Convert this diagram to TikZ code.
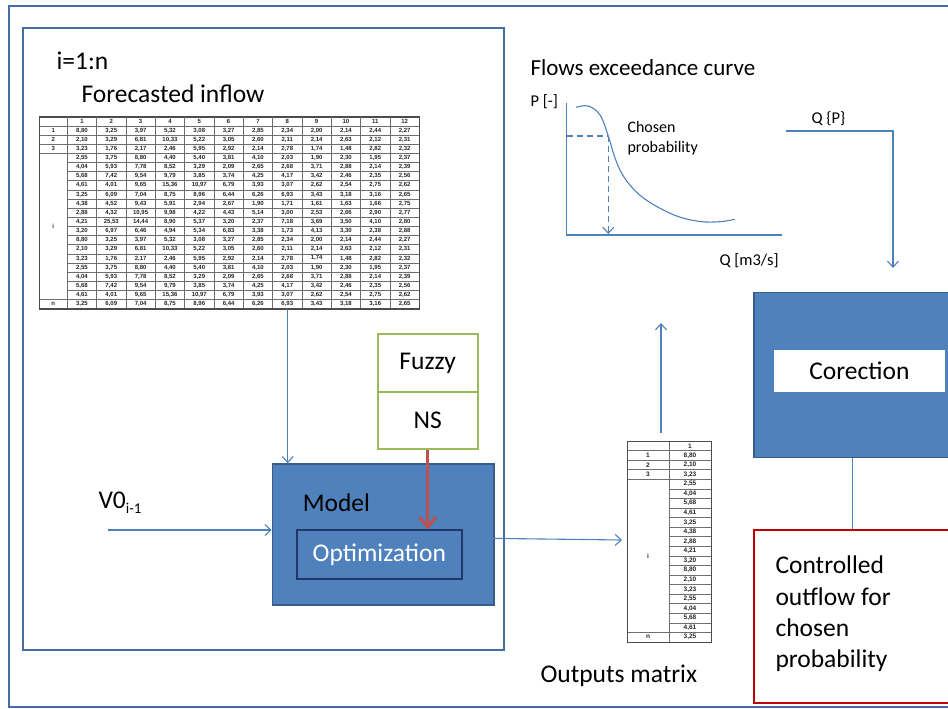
\documentclass[tikz,border=0pt]{standalone}
\usepackage{fontspec}
\setmainfont{Carlito}
\newfontfamily\cellfont{Liberation Sans}
\usetikzlibrary{arrows.meta}

\definecolor{frameblue}{RGB}{68,108,165}
\definecolor{boxblue}{RGB}{79,129,189}
\definecolor{boxedge}{RGB}{56,93,138}
\definecolor{optedge}{RGB}{31,56,100}
\definecolor{linkblue}{RGB}{79,129,189}
\definecolor{fzgreen}{RGB}{155,187,89}
\definecolor{nsred}{RGB}{192,80,77}
\definecolor{outred}{RGB}{192,0,0}
\definecolor{gridgray}{RGB}{110,110,110}

% rows of the forecasted inflow table
\def\valsA{{8,80},{3,25},{3,97},{5,32},{3,08},{3,27},{2,85},{2,34},{2,00},{2,14},{2,44},{2,27}}
\def\valsB{{2,10},{3,29},{6,81},{10,33},{5,22},{3,05},{2,60},{2,11},{2,14},{2,63},{2,12},{2,31}}
\def\valsC{{3,23},{1,76},{2,17},{2,46},{5,95},{2,92},{2,14},{2,78},{1,74},{1,48},{2,82},{2,32}}
\def\valsD{{2,55},{3,75},{8,80},{4,40},{5,40},{3,81},{4,10},{2,03},{1,90},{2,30},{1,95},{2,37}}
\def\valsE{{4,04},{5,93},{7,78},{8,52},{3,29},{2,09},{2,65},{2,68},{3,71},{2,88},{2,14},{2,39}}
\def\valsF{{5,68},{7,42},{9,54},{9,79},{3,85},{3,74},{4,25},{4,17},{3,42},{2,46},{2,35},{2,56}}
\def\valsG{{4,61},{4,01},{9,65},{15,36},{10,97},{6,79},{3,93},{3,07},{2,62},{2,54},{2,75},{2,62}}
\def\valsH{{3,25},{6,09},{7,04},{8,75},{8,96},{6,44},{6,26},{6,93},{3,43},{3,18},{3,16},{2,65}}
\def\valsI{{4,38},{4,52},{9,43},{5,91},{2,94},{2,67},{1,90},{1,71},{1,61},{1,63},{1,66},{2,75}}
\def\valsJ{{2,88},{4,32},{10,95},{9,98},{4,22},{4,43},{5,14},{3,00},{2,53},{2,66},{2,90},{2,77}}
\def\valsK{{4,21},{25,53},{14,44},{8,90},{5,37},{3,20},{2,37},{7,18},{3,69},{3,50},{4,10},{2,80}}
\def\valsL{{3,20},{6,97},{6,46},{4,94},{5,34},{6,83},{3,38},{1,73},{4,13},{3,30},{2,38},{2,88}}
% single column of the outputs matrix
\def\outvals{{8,80},{2,10},{3,23},{2,55},{4,04},{5,68},{4,61},{3,25},{4,38},{2,88},{4,21},{3,20},{8,80},{2,10},{3,23},{2,55},{4,04},{5,68},{4,61},{3,25}}

\tikzset{
  big/.style={font=\fontsize{25.5}{31.3}\selectfont},
  mid/.style={font=\fontsize{16.5}{20}\selectfont},
  title/.style={font=\fontsize{23}{27}\selectfont},
  frame/.style={draw=frameblue, line width=2.2pt},
  cell/.style={font=\cellfont\bfseries\fontsize{6}{7}\selectfont, inner sep=0pt, text=black!85},
  ocell/.style={font=\cellfont\bfseries\fontsize{6.5}{7}\selectfont, inner sep=0pt, text=black!85},
  gridline/.style={draw=gridgray, line width=0.45pt},
  tableedge/.style={draw=black!70, line width=0.8pt, inner sep=0pt, anchor=north west},
  link/.style={draw=linkblue, line width=1.1pt},
  barb/.style={-{Straight Barb[length=6pt,width=11pt]}},
  bluebox/.style={fill=boxblue, draw=boxedge, line width=1.5pt, inner sep=0pt, anchor=north west},
  fzbox/.style={fill=white, draw=fzgreen, line width=2pt, inner sep=0pt, anchor=north west, big},
}

\begin{document}
\begin{tikzpicture}[x=1pt,y=-1pt]
\useasboundingbox (0,0) rectangle (948,709);

% frames
\draw[frame] (9.3,5.7) rectangle (970,707);
\draw[frame] (22.7,28.3) rectangle (504.3,650);

\node[big, anchor=west] (loop) at (53,61) {i=1:n};
\node[big, anchor=west] (inflowlbl) at (78,94) {Forecasted inflow};

% forecasted inflow table
\def\tx{39.3}\def\tl{67.3}\def\tr{419.3}\def\ty{116.7}\def\cw{29.333}\def\rh{9.14}
\node[tableedge, minimum width=380pt, minimum height=191.94pt] (inflow) at (\tx,\ty) {};
\foreach \k in {0,...,11}
  \draw[gridline] ({\tl+\k*\cw},\ty) -- ({\tl+\k*\cw},{\ty+21*\rh});
\foreach \j in {1,2,3,4,20}
  \draw[gridline] (\tx,{\ty+\j*\rh}) -- (\tr,{\ty+\j*\rh});
\foreach \j in {5,...,19}
  \draw[gridline] (\tl,{\ty+\j*\rh}) -- (\tr,{\ty+\j*\rh});
\draw[draw=black!70, line width=0.8pt] (\tx,\ty) rectangle (\tr,{\ty+21*\rh});
\foreach \ci in {1,...,12}
  \node[cell] (th-\ci) at ({\tl+(\ci-0.5)*\cw},{\ty+0.5*\rh}) {\ci};
\foreach \lab/\pos [count=\li] in {1/1.5,2/2.5,3/3.5,i/12,n/20.5}
  \node[cell] (tl-\li) at ({(\tx+\tl)/2},{\ty+\pos*\rh}) {\lab};
\foreach \rn [count=\ri] in {A,B,C,D,E,F,G,H,I,J,K,L,A,B,C,D,E,F,G,H}{
  \expandafter\let\expandafter\currow\csname vals\rn\endcsname
  \foreach \v [count=\ci] in \currow
    \node[cell] (t-\ri-\ci) at ({\tl+(\ci-0.5)*\cw},{\ty+(\ri+0.5)*\rh}) {\v};
}

% model block
\node[bluebox, minimum width=221.6pt, minimum height=140.7pt] (model) at (271.7,463.3) {};
\node[big, anchor=west] (modellbl) at (299.3,502.7) {Model};
\node[bluebox, draw=optedge, line width=2pt, minimum width=164.7pt, minimum height=49pt, text=white, big] (opt) at (296,529.3) {};
\node[big, text=white] (optlbl) at (opt.center) {Optimization};

% fuzzy / NS stack
\node[fzbox, minimum width=100pt, minimum height=57.4pt] (fuzzy) at (376.7,333.3) {Fuzzy};
\node[fzbox, minimum width=100pt, minimum height=57.6pt] (ns) at (376.7,390.7) {NS};

% previous volume input
\node[big, anchor=west] (v0) at (95,503) {V0\raisebox{-5pt}{\fontsize{15}{15}\selectfont i-1}};

% connectors of the model
\coordinate (dropx) at (287.7,0);
\draw[link, barb] (dropx |- inflow.south) -- (dropx |- model.north);
\coordinate (v0start) at (108,530);
\draw[link, barb] (v0start) -- (v0start -| model.west);
\draw[draw=nsred, line width=3pt, -{Straight Barb[length=10pt,width=17pt]}] (ns.south) -- (ns.south |- opt.north);

% outputs matrix
\def\ox{627}\def\om{669}\def\oR{711}\def\oy{441}\def\orh{9.57}
\node[tableedge, minimum width=84pt, minimum height=200.97pt] (outmat) at (\ox,\oy) {};
\draw[gridline] (\om,\oy) -- (\om,{\oy+21*\orh});
\foreach \j in {1,2,3,4,20}
  \draw[gridline] (\ox,{\oy+\j*\orh}) -- (\oR,{\oy+\j*\orh});
\foreach \j in {5,...,19}
  \draw[gridline] (\om,{\oy+\j*\orh}) -- (\oR,{\oy+\j*\orh});
\draw[draw=black!70, line width=0.8pt] (\ox,\oy) rectangle (\oR,{\oy+21*\orh});
\node[ocell] (oh) at ({(\om+\oR)/2},{\oy+0.5*\orh}) {1};
\foreach \lab/\pos [count=\li] in {1/1.5,2/2.5,3/3.5,i/12,n/20.5}
  \node[ocell] (ol-\li) at ({(\ox+\om)/2},{\oy+\pos*\orh}) {\lab};
\foreach \v [count=\ri] in \outvals
  \node[ocell] (o-\ri) at ({(\om+\oR)/2},{\oy+(\ri+0.5)*\orh}) {\v};
\node[big, anchor=west] (outlbl) at (537,676) {Outputs matrix};

\coordinate (o1) at (0,538);
\coordinate (o2) at (0,540);
\draw[link, barb] (o1 -| opt.east) -- ([xshift=-5pt]outmat.west |- o2);
\coordinate (upbase) at (661,433);
\coordinate (uptip) at (661,323);
\draw[link, barb] (upbase) -- (uptip);

% exceedance curve
\node[title, anchor=west] (curvettl) at (527,68) {Flows exceedance curve};
\node[mid, anchor=west] (plbl) at (527,102) {P [-]};
\node[mid, anchor=west] (qlbl) at (716,261) {Q [m3/s]};
\node[mid, anchor=west, align=left, font=\fontsize{16}{20}\selectfont] (chosen) at (624,138) {Chosen\\probability};
\draw[link] (566.7,103.3) -- (566.7,235) -- (782,235);
\draw[link] plot[smooth, tension=0.6] coordinates {(576,107.3) (588.3,106) (600,115) (608.3,136) (615,158) (623.3,176) (636.7,192.3) (653.3,204.5) (676.7,216) (700,221.5) (720,221.7) (735,219.3)};
\draw[link, dash pattern=on 6pt off 4pt] (566.7,136) -- (608.3,136);
\draw[link, dash pattern=on 6pt off 4pt, barb] (608.3,136) -- (608.3,234);

% chosen flow into the correction
\node[mid, anchor=west] (qp) at (808,119) {Q \{P\}};
\coordinate (qp0) at (786,131);
\coordinate (qp1) at (893,268);
\draw[link, barb] (qp0) -| (qp1);

% correction block
\node[bluebox, minimum width=220pt, minimum height=165pt] (corr) at (753.3,291.7) {};
\node[fill=white, inner sep=0pt, minimum width=171.7pt, minimum height=42.4pt, anchor=north west] (corrbox) at (773.3,349.3) {};
\node[big] (corrlbl) at (corrbox.center) {Corection};

% controlled outflow
\node[draw=outred, line width=2pt, fill=white, inner sep=0pt, minimum width=220pt, minimum height=172.4pt, anchor=north west] (outbox) at (753.3,529.3) {};
\node[big, anchor=west, align=left] (outtxt) at (772,614) {Controlled\\outflow for\\chosen\\probability};
\coordinate (cx) at (852.7,0);
\draw[link] (cx |- corr.south) -- (cx |- outbox.north);
\end{tikzpicture}
\end{document}
